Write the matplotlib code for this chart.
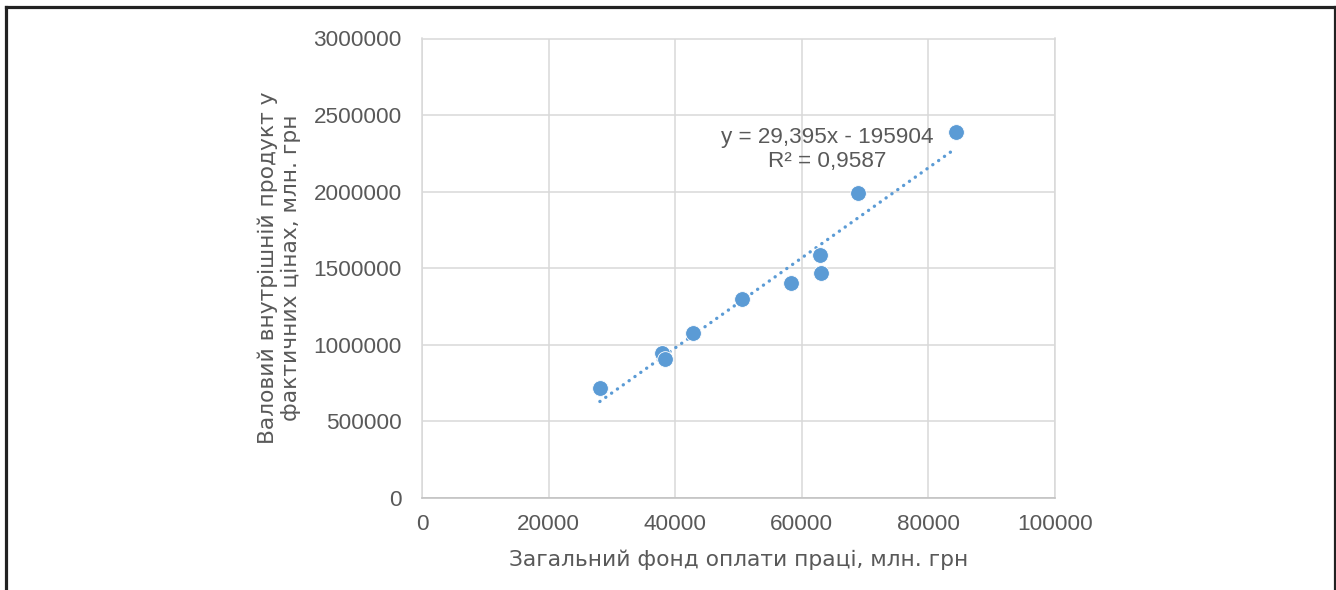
import matplotlib
matplotlib.use("Agg")
import matplotlib.pyplot as plt
from matplotlib.lines import Line2D
import numpy as np

# Data
wage_fund = [28100, 37900, 38400, 42800, 50550, 58300, 62900, 63050, 68900, 84350]
gdp = [717000, 946000, 907000, 1076000, 1298000, 1402000, 1585000, 1467000, 1989000, 2387000]

# Trendline as given in the chart label
slope = 29.395
intercept = -195904
eq_text = "y = 29,395x - 195904"
r2_text = "R² = 0,9587"

x_ticks = [0, 20000, 40000, 60000, 80000, 100000]
y_ticks = [0, 500000, 1000000, 1500000, 2000000, 2500000, 3000000]
x_label = "Загальний фонд оплати праці, млн. грн"
y_label = "Валовий внутрішній продукт у\nфактичних цінах, млн. грн"

W, H = 1336, 590
DPI = 100
plt.rcParams['font.family'] = ['Liberation Sans', 'DejaVu Sans']
TXT = '#595959'
BLUE = '#5B9BD5'
GRID = '#D9D9D9'
FS = 16.2
FS_TITLE = 15.7
TITLE_FONT = ['DejaVu Sans']

fig = plt.figure(figsize=(W / DPI, H / DPI), dpi=DPI)
fig.patch.set_facecolor('white')

ax = fig.add_axes([422 / W, 1 - 498 / H, (1055 - 422) / W, (498 - 38.5) / H])
ax.set_xlim(0, 100000)
ax.set_ylim(0, 3000000)
ax.set_xticks(x_ticks)
ax.set_yticks(y_ticks)
ax.set_xticklabels([str(v) for v in x_ticks])
ax.set_yticklabels([str(v) for v in y_ticks])
ax.grid(True, color=GRID, linewidth=1.1)
ax.set_axisbelow(True)
for s in ax.spines.values():
    s.set_color(GRID)
    s.set_linewidth(1.1)
ax.spines['bottom'].set_color('#BFBFBF')
ax.tick_params(length=0, labelsize=FS, labelcolor=TXT)
ax.tick_params(axis='y', pad=14.5)
ax.tick_params(axis='x', pad=11.5)

# Trendline
xs = np.array([min(wage_fund), max(wage_fund)])
ax.plot(xs, slope * xs + intercept, color=BLUE, linewidth=2.4,
        linestyle=(0, (0.05, 2.1)), dash_capstyle='round', zorder=2)

# Points
ax.scatter(wage_fund, gdp, s=128, color=BLUE, edgecolors='white', linewidths=0.6, zorder=3)

# Equation text
fig.text(827 / W, 1 - 138 / H, eq_text, ha='center', va='center', fontsize=FS, color=TXT)
fig.text(827 / W, 1 - 162 / H, r2_text, ha='center', va='center', fontsize=FS, color=TXT)

# Axis titles
fig.text(739 / W, 1 - 560 / H, x_label, ha='center', va='center', fontsize=FS_TITLE, color=TXT,
         family=TITLE_FONT)
fig.text(279 / W, 1 - 268 / H, y_label, ha='center', va='center', fontsize=FS_TITLE, color=TXT,
         rotation=90, linespacing=1.15, multialignment='center', family=TITLE_FONT)

# Outer frame
lw = 2.3
fig.add_artist(Line2D([5.5 / W, 5.5 / W], [-0.05, 1 - 6.5 / H], transform=fig.transFigure, color='#222222', linewidth=lw))
fig.add_artist(Line2D([1334.5 / W, 1334.5 / W], [-0.05, 1 - 6.5 / H], transform=fig.transFigure, color='#222222', linewidth=lw))
fig.add_artist(Line2D([5.5 / W, 1334.5 / W], [1 - 6.5 / H, 1 - 6.5 / H], transform=fig.transFigure, color='#222222', linewidth=lw))

fig.savefig('out.png', dpi=DPI, facecolor='white')
